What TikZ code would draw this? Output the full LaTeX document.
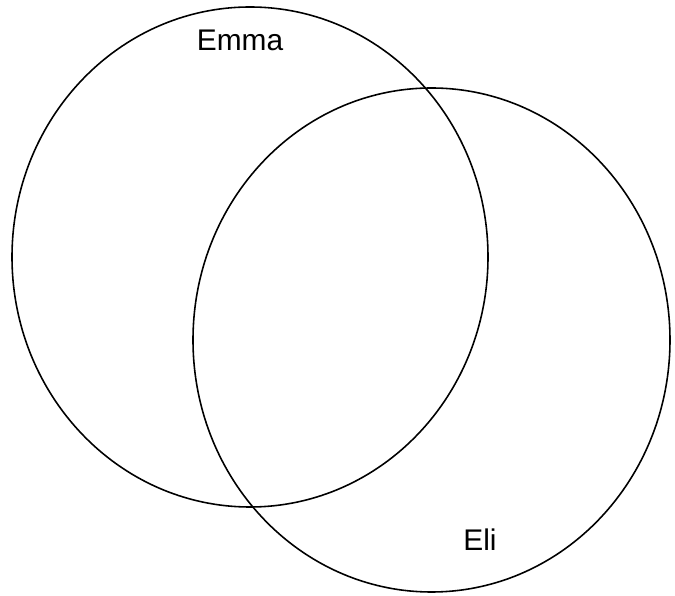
\documentclass[tikz,border=0pt]{standalone}
\usepackage{fontspec}
\setmainfont{Liberation Sans}
\usetikzlibrary{shapes.geometric, positioning}

\begin{document}
\begin{tikzpicture}[
        set ring/.style={ellipse, draw=black, line width=0.9pt, inner sep=0pt},
        set label/.style={font=\fontsize{17}{20}\selectfont, text=black, anchor=base},
    ]

    % Canvas
    \useasboundingbox (0,0) rectangle (13.5,11.92);

    % Sets
    \node[set ring, minimum width=9.52cm, minimum height=10cm] (emma) at (5.0,6.78) {};
    \node[set ring, minimum width=9.54cm, minimum height=10.08cm] (eli) at (8.63,5.12) {};

    % Set names
    \node[set label] (emmalabel) at (4.8,10.9) {Emma};
    \node[set label] (elilabel) at (9.6,0.9) {Eli};

\end{tikzpicture}
\end{document}
